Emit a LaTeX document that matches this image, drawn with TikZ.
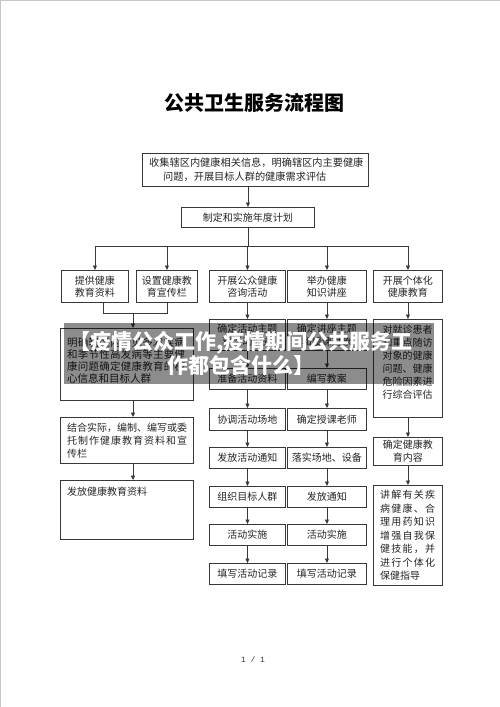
\documentclass[tikz,border=0pt]{standalone}
\usepackage{fontspec}
\newfontfamily\cjk{Noto Sans CJK SC}
\setmonofont{Liberation Mono}
\usetikzlibrary{arrows.meta}
\newcommand\spreadstop{SPREADSTOP}
\def\spreadchars#1{\spreadA#1\spreadstop}
\def\spreadA#1#2{#1\ifx#2\spreadstop\else\hfill\expandafter\spreadA\expandafter#2\fi}
\newcommand\jline[2]{\hbox to #1{\spreadchars{#2}}}
\begin{document}
\begin{tikzpicture}[x=1pt,y=-1pt,
 bx/.style={draw=black!78, line width=0.9pt, inner sep=0pt, anchor=north west, align=center, font=\cjk\fontsize{10}{12}\selectfont, text=black!85},
 tx/.style={inner sep=0pt, text=black!85},
 ar/.style={draw=black!78, line width=0.9pt, -{Triangle[length=4.5pt,width=4pt]}},
 ln/.style={draw=black!78, line width=0.9pt}]

\useasboundingbox (0,0) rectangle (500,707);
\fill[white] (0,0) rectangle (500,707);
\draw[black!22, line width=1pt] (0.5,707) -- (0.5,0.5) -- (500,0.5);

\node[font=\cjk\bfseries\fontsize{20}{24}\selectfont] (title) at (254,102.5) {公共卫生服务流程图};

% top
\node[bx, minimum width=226pt, minimum height=33pt] (collect) at (142,153) {};
\node[tx, anchor=north west, align=left, font=\cjk\fontsize{10.2}{14}\selectfont] (collecttext) at (149,158) {收集辖区内健康相关信息，明确辖区内主要健康\\\hspace*{14pt}问题，开展目标人群的健康需求评估};
\node[bx, minimum width=133pt, minimum height=20pt] (plan) at (181,207) {制定和实施年度计划};

% row 3
\node[bx, minimum width=67pt, minimum height=32pt] (b1) at (61,270) {提供健康\\教育资料};
\node[bx, minimum width=61pt, minimum height=32pt] (b2) at (136,270) {设置健康教\\育宣传栏};
\node[bx, minimum width=76pt, minimum height=32pt] (b3) at (209,270) {开展公众健康\\咨询活动};
\node[bx, minimum width=79pt, minimum height=32pt] (b4) at (287,270) {举办健康\\知识讲座};
\node[bx, minimum width=69pt, minimum height=32pt] (b5) at (373,270) {开展个体化\\健康教育};

% left column
\node[bx, minimum width=133pt, minimum height=72pt] (l1) at (60,328) {};
\node[tx, anchor=north west, align=left, font=\cjk\fontsize{10.5}{12.3}\selectfont] (l1text) at (67,337) {\jline{118pt}{明确辖区内常见多发疾病}\\\jline{118pt}{和季节性高发病等主要健}\\\jline{118pt}{康问题确定健康教育的核}\\心信息和目标人群};
\node[bx, minimum width=133pt, minimum height=46pt] (l2) at (60,417) {};
\node[tx, anchor=north west, align=left, font=\cjk\fontsize{10}{13}\selectfont] (l2text) at (67,423) {\jline{120pt}{结合实际，编制、编写或委}\\\jline{120pt}{托制作健康教育资料和宣}\\传栏};
\node[bx, minimum width=133pt, minimum height=59pt] (l3) at (60,480) {};
\node[tx, anchor=north west, font=\cjk\fontsize{10}{13}\selectfont] (l3text) at (67,487) {发放健康教育资料};

% column 3
\node[bx, minimum width=76pt, minimum height=31pt, font=\cjk\fontsize{10}{13}\selectfont] (c1) at (209,319) {确定活动主题\\和活动形式};
\node[bx, minimum width=76pt, minimum height=21pt] (c2) at (209,368) {准备活动资料};
\node[bx, minimum width=76pt, minimum height=22pt] (c3) at (209,408) {协调活动场地};
\node[bx, minimum width=76pt, minimum height=21pt] (c4) at (209,447) {发放活动通知};
\node[bx, minimum width=76pt, minimum height=21pt] (c5) at (209,486) {组织目标人群};
\node[bx, minimum width=76pt, minimum height=21pt] (c6) at (209,524) {活动实施};
\node[bx, minimum width=76pt, minimum height=21pt] (c7) at (209,563) {填写活动记录};

% column 4
\node[bx, minimum width=79pt, minimum height=31pt, font=\cjk\fontsize{10}{13}\selectfont] (e1) at (287,319) {确定讲座主题\\和授课对象};
\node[bx, minimum width=79pt, minimum height=21pt] (e2) at (287,368) {编写教案};
\node[bx, minimum width=79pt, minimum height=22pt] (e3) at (287,408) {确定授课老师};
\node[bx, minimum width=79pt, minimum height=21pt] (e4) at (287,447) {落实场地、设备};
\node[bx, minimum width=79pt, minimum height=21pt] (e5) at (287,486) {发放通知};
\node[bx, minimum width=79pt, minimum height=21pt] (e6) at (287,524) {活动实施};
\node[bx, minimum width=79pt, minimum height=21pt] (e7) at (287,563) {填写活动记录};

% column 5
\node[bx, minimum width=69pt, minimum height=98pt] (f1) at (373,319) {};
\node[tx, anchor=north, align=center, font=\cjk\fontsize{10}{13}\selectfont] (f1text) at (407.5,325) {对就诊患者\\和重点随访\\对象的健康\\问题、健康\\危险因素进\\行综合评估};
\node[bx, minimum width=69pt, minimum height=28pt, font=\cjk\fontsize{10}{13}\selectfont] (f2) at (373,437) {确定健康教\\育内容};
\node[bx, minimum width=69pt, minimum height=100pt] (f3) at (373,485) {};
\node[tx, anchor=north west, align=left, font=\cjk\fontsize{10}{13.5}\selectfont] (f3text) at (380,490) {\jline{55pt}{讲解有关疾}\\\jline{55pt}{病健康、合}\\\jline{55pt}{理用药知识}\\\jline{55pt}{增强自我保}\\\jline{55pt}{健技能，并}\\\jline{55pt}{进行个体化}\\保健指导};

% connectors
\draw[ar] (collect.south -| plan.north) -- (plan.north);
\coordinate (bus) at (247,246);
\draw[ln] (plan.south) -- (plan.south |- bus);
\draw[ln] (b1.north |- bus) -- (b5.north |- bus);
\foreach \b in {b1,b2,b3,b4,b5} {\draw[ar] (\b.north |- bus) -- (\b.north);}

\coordinate (j1) at (103,313);
\coordinate (j3) at (133,313);
\draw[ln] (b1.south -| j1) -- (j1) -- (b2.south |- j1) -- (b2.south);
\draw[ar] (j3) -- (l1.north -| j3);
\draw[ar] (l1.south -| j3) -- (l2.north -| j3);
\draw[ar] (l2.south -| j3) -- (l3.north -| j3);

\draw[ar] (b3.south) -- (c1.north);
\draw[ar] (c1.south) -- (c2.north);
\draw[ar] (c2.south) -- (c3.north);
\draw[ar] (c3.south) -- (c4.north);
\draw[ar] (c4.south) -- (c5.north);
\draw[ar] (c5.south) -- (c6.north);
\draw[ar] (c6.south) -- (c7.north);

\draw[ar] (b4.south) -- (e1.north);
\draw[ar] (e1.south) -- (e2.north);
\draw[ar] (e2.south) -- (e3.north);
\draw[ar] (e3.south) -- (e4.north);
\draw[ar] (e4.south) -- (e5.north);
\draw[ar] (e5.south) -- (e6.north);
\draw[ar] (e6.south) -- (e7.north);

\draw[ar] (b5.south) -- (f1.north);
\draw[ar] (f1.south) -- (f2.north);
\draw[ar] (f2.south) -- (f3.north);

% banner overlay
\node[fill=black, fill opacity=0.45, draw=none, minimum width=370pt, minimum height=61pt, inner sep=0pt, anchor=north west] (band) at (64,323) {};
\node[font=\cjk\bfseries\fontsize{21}{24}\selectfont, text=white, align=center, inner sep=0pt] (bannertext) at (241,353.5) {【疫情公众工作,疫情期间公共服务工\\作都包含什么】};

\node[font=\ttfamily\fontsize{8}{10}\selectfont, text=black!80] (pg) at (253,660) {1 / 1};
\end{tikzpicture}
\end{document}
